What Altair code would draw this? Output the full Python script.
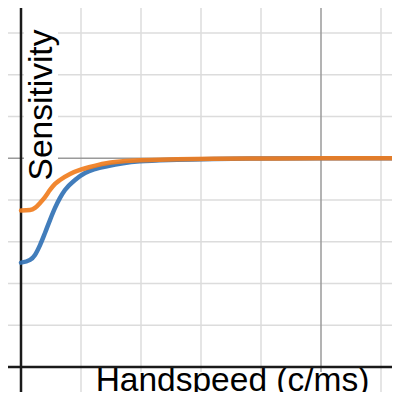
import altair as alt
import pandas as pd

# Curve data (Handspeed, Sensitivity)
blue_x = [0.0, 0.15, 0.233, 0.317, 0.40, 0.483, 0.567, 0.65, 0.733, 0.90, 1.067, 1.233, 1.45, 1.98, 2.6, 3.2, 4.0, 5.0, 6.3]
blue_y = [0.50, 0.513, 0.537, 0.584, 0.642, 0.704, 0.762, 0.81, 0.848, 0.896, 0.929, 0.948, 0.963, 0.985, 0.993, 0.997, 0.999, 1.0, 1.0]
orange_x = [0.0, 0.15, 0.233, 0.317, 0.40, 0.483, 0.567, 0.65, 0.817, 0.983, 1.15, 1.40, 1.98, 2.6, 3.2, 4.0, 5.0, 6.3]
orange_y = [0.75, 0.752, 0.762, 0.786, 0.814, 0.848, 0.877, 0.896, 0.925, 0.944, 0.958, 0.975, 0.99, 0.995, 0.998, 0.999, 1.0, 1.0]

x_minor = [1, 2, 3, 4, 6]
x_major = [5]
y_minor = [0.2, 0.4, 0.6, 0.8, 1.2, 1.4, 1.6]
y_major = [1.0]

W, H = 384, 384
xdom = [(8 - 21) / 60, (8 + W - 21) / 60]
ydom = [(367 - 8 - H) / 208.75, (367 - 8) / 208.75]

xs = alt.Scale(domain=xdom, nice=False, zero=False)
ys = alt.Scale(domain=ydom, nice=False, zero=False)

curves = pd.DataFrame(
    {"x": blue_x + orange_x,
     "y": blue_y + orange_y,
     "s": ["blue"] * len(blue_x) + ["orange"] * len(orange_x)}
)

vminor = alt.Chart(pd.DataFrame({"x": x_minor})).mark_rule(color="#dcdcdc", strokeWidth=1.5).encode(
    x=alt.X("x:Q", scale=xs, axis=None))
vmajor = alt.Chart(pd.DataFrame({"x": x_major})).mark_rule(color="#9a9a9a", strokeWidth=1.5).encode(
    x=alt.X("x:Q", scale=xs, axis=None))
hminor = alt.Chart(pd.DataFrame({"y": y_minor})).mark_rule(color="#dcdcdc", strokeWidth=1.5).encode(
    y=alt.Y("y:Q", scale=ys, axis=None))
hmajor = alt.Chart(pd.DataFrame({"y": y_major})).mark_rule(color="#9a9a9a", strokeWidth=1.5).encode(
    y=alt.Y("y:Q", scale=ys, axis=None))

xaxis = alt.Chart(pd.DataFrame({"y": [0]})).mark_rule(color="#1a1a1a", strokeWidth=2.5).encode(
    y=alt.Y("y:Q", scale=ys, axis=None))
yaxis = alt.Chart(pd.DataFrame({"x": [0]})).mark_rule(color="#1a1a1a", strokeWidth=2.5).encode(
    x=alt.X("x:Q", scale=xs, axis=None))

box_x = alt.Chart(pd.DataFrame({"t": ["Handspeed (c/ms)"]})).mark_rect(color="white").encode(
    x=alt.value(82), x2=alt.value(367), y=alt.value(364), y2=alt.value(384))
box_y = alt.Chart(pd.DataFrame({"t": ["Sensitivity"]})).mark_rect(color="white").encode(
    x=alt.value(16), x2=alt.value(50), y=alt.value(20), y2=alt.value(175))

title_x = alt.Chart(pd.DataFrame({"t": ["Handspeed (c/ms)"]})).mark_text(
    font="Liberation Sans", fontSize=33.5, color="#000000", align="center", baseline="alphabetic"
).encode(text="t:N", x=alt.value(224.5), y=alt.value(383))
title_y = alt.Chart(pd.DataFrame({"t": ["Sensitivity"]})).mark_text(
    font="Liberation Sans", fontSize=33.5, color="#000000", align="center", baseline="alphabetic", angle=270
).encode(text="t:N", x=alt.value(44), y=alt.value(97))

lines = alt.Chart(curves).mark_line(strokeWidth=4.5, interpolate="monotone", opacity=0.92, strokeCap="round").encode(
    x=alt.X("x:Q", scale=xs, axis=None),
    y=alt.Y("y:Q", scale=ys, axis=None),
    color=alt.Color("s:N", scale=alt.Scale(domain=["blue", "orange"], range=["#3272b5", "#f07d1e"]), legend=None),
)

chart = alt.layer(
    vminor, hminor, vmajor, hmajor, box_x, box_y, title_x, title_y, xaxis, yaxis, lines
).properties(
    width=W, height=H, padding=0, autosize=alt.AutoSizeParams(type="none")
).configure_view(stroke=None)

chart.save("out.html", embed_options={"renderer": "svg", "actions": False})
